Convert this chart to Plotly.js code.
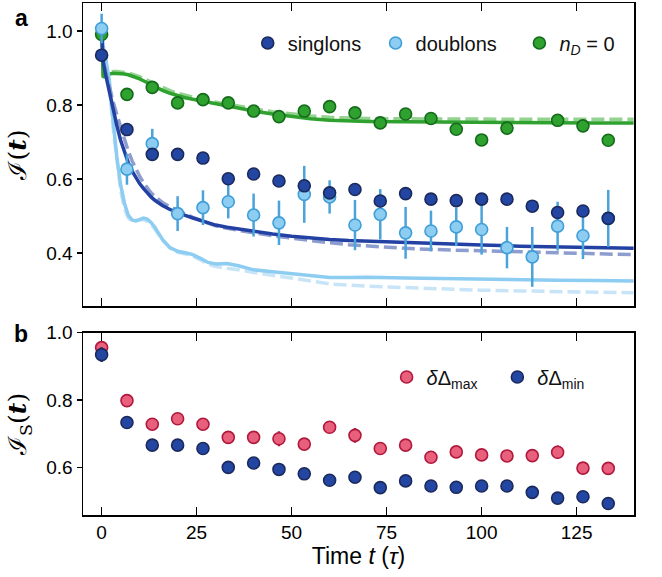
<!DOCTYPE html>
<html>
<head>
<meta charset="utf-8">
<script src="https://cdn.plot.ly/plotly-3.0.1.min.js"></script>
<style>html,body{margin:0;padding:0;background:#fff;}#chart{width:662px;height:577px;}</style>
</head>
<body>
<div id="chart"></div>
<script>
// measured times (tau)
const tData = [0, 6.67, 13.33, 20, 26.67, 33.33, 40, 46.67, 53.33, 60, 66.67, 73.33, 80, 86.67, 93.33, 100, 106.67, 113.33, 120, 126.67, 133.33];
// panel a
const singlons = [0.935, 0.734, 0.667, 0.667, 0.657, 0.601, 0.614, 0.595, 0.582, 0.563, 0.572, 0.541, 0.561, 0.546, 0.542, 0.546, 0.546, 0.527, 0.510, 0.514, 0.494];
const singlonsErr = [0.015, 0.012, 0.012, 0.012, 0.012, 0.012, 0.012, 0.012, 0.012, 0.012, 0.012, 0.012, 0.012, 0.012, 0.012, 0.012, 0.012, 0.012, 0.012, 0.012, 0.012];
const doublons = [1.007, 0.627, 0.696, 0.507, 0.523, 0.539, 0.503, 0.482, 0.559, 0.552, 0.476, 0.505, 0.455, 0.460, 0.471, 0.464, 0.415, 0.390, 0.473, 0.447, 0.494];
const doublonsErr = [0.04, 0.042, 0.04, 0.047, 0.047, 0.045, 0.058, 0.06, 0.077, 0.045, 0.068, 0.068, 0.07, 0.055, 0.052, 0.068, 0.056, 0.081, 0.066, 0.063, 0.077];
const nD0 = [0.991, 0.829, 0.848, 0.806, 0.815, 0.806, 0.784, 0.769, 0.784, 0.796, 0.779, 0.752, 0.776, 0.764, 0.735, 0.706, 0.738, null, 0.759, 0.744, 0.705];
const nD0Err = [0.01, 0.01, 0.01, 0.01, 0.01, 0.01, 0.01, 0.01, 0.01, 0.01, 0.01, 0.01, 0.01, 0.01, 0.01, 0.01, 0.01, 0.01, 0.01, 0.01, 0.01];
// theory curves
const tTheory = [0, 0.4, 1, 2, 3, 4, 5, 6, 7, 8, 9, 10, 11, 12, 13, 14, 15, 16, 18, 20, 22, 24, 26, 28, 30, 33, 36, 40, 45, 50, 55, 60, 65, 70, 80, 90, 100, 110, 120, 130, 140];
const singlonsTh = [1.0, 0.92, 0.885, 0.835, 0.79, 0.745, 0.705, 0.672, 0.645, 0.622, 0.603, 0.588, 0.575, 0.563, 0.552, 0.543, 0.536, 0.529, 0.518, 0.509, 0.502, 0.495, 0.489, 0.482, 0.476, 0.470, 0.465, 0.459, 0.452, 0.446, 0.441, 0.437, 0.434, 0.432, 0.428, 0.425, 0.422, 0.419, 0.417, 0.415, 0.413];
const singlonsTh2 = [1.0, 0.93, 0.895, 0.85, 0.81, 0.775, 0.74, 0.705, 0.676, 0.65, 0.628, 0.608, 0.591, 0.576, 0.563, 0.553, 0.545, 0.537, 0.525, 0.515, 0.505, 0.497, 0.489, 0.481, 0.474, 0.467, 0.461, 0.455, 0.447, 0.440, 0.434, 0.428, 0.423, 0.419, 0.413, 0.409, 0.406, 0.403, 0.400, 0.398, 0.396];
const doublonsTh = [1.0, 0.96, 0.93, 0.87, 0.76, 0.66, 0.585, 0.535, 0.503, 0.49, 0.487, 0.49, 0.495, 0.492, 0.483, 0.47, 0.452, 0.437, 0.415, 0.405, 0.401, 0.396, 0.386, 0.375, 0.371, 0.372, 0.366, 0.355, 0.350, 0.345, 0.340, 0.334, 0.334, 0.335, 0.333, 0.331, 0.329, 0.328, 0.327, 0.326, 0.325];
const doublonsTh2 = [1.0, 0.955, 0.92, 0.85, 0.74, 0.645, 0.57, 0.52, 0.495, 0.487, 0.487, 0.49, 0.49, 0.486, 0.478, 0.465, 0.45, 0.435, 0.413, 0.402, 0.398, 0.392, 0.382, 0.370, 0.364, 0.360, 0.355, 0.348, 0.341, 0.333, 0.325, 0.317, 0.313, 0.311, 0.307, 0.303, 0.300, 0.298, 0.296, 0.294, 0.293];
const nD0Th = [1.0, 0.875, 0.879, 0.884, 0.886, 0.886, 0.885, 0.884, 0.882, 0.879, 0.875, 0.871, 0.866, 0.861, 0.855, 0.849, 0.845, 0.840, 0.832, 0.825, 0.820, 0.816, 0.812, 0.807, 0.803, 0.797, 0.791, 0.784, 0.776, 0.769, 0.763, 0.759, 0.757, 0.756, 0.755, 0.754, 0.753, 0.753, 0.752, 0.752, 0.752];
const nD0Th2 = [1.0, 0.88, 0.885, 0.889, 0.891, 0.891, 0.890, 0.889, 0.887, 0.884, 0.881, 0.877, 0.872, 0.867, 0.862, 0.857, 0.852, 0.847, 0.839, 0.832, 0.826, 0.821, 0.816, 0.812, 0.808, 0.802, 0.797, 0.790, 0.782, 0.776, 0.771, 0.767, 0.765, 0.764, 0.763, 0.762, 0.762, 0.762, 0.762, 0.762, 0.762];
// panel b
const dMax = [0.956, 0.799, 0.729, 0.745, 0.729, 0.690, 0.690, 0.686, 0.670, 0.720, 0.696, 0.657, 0.667, 0.631, 0.647, 0.638, 0.635, 0.636, 0.646, 0.599, 0.598];
const dMaxErr = [0.012, 0.01, 0.01, 0.01, 0.01, 0.01, 0.01, 0.022, 0.01, 0.01, 0.022, 0.01, 0.01, 0.01, 0.01, 0.01, 0.01, 0.01, 0.02, 0.01, 0.012];
const dMin = singlons;
const dMinErr = [0.022, 0.01, 0.01, 0.01, 0.01, 0.01, 0.01, 0.01, 0.01, 0.01, 0.01, 0.01, 0.01, 0.01, 0.01, 0.01, 0.01, 0.01, 0.01, 0.01, 0.01];

const FONT = 'Liberation Sans, Arial, Helvetica, sans-serif';
const cDark = '#2446a3', cDarkEdge = '#1b2a5c';
const cLight = '#8ecdf2', cLightEdge = '#3f9fd8';
const cGreen = '#2fa12f', cGreenEdge = '#156b1b';
const cRed = '#e8607b', cRedEdge = '#b1183d';
const DASH = '13px,5px';

function line(y, color, dash, width) {
  return {x: tTheory, y: y, type: 'scatter', mode: 'lines', xaxis: 'x', yaxis: 'y',
    line: {color: color, width: width || 3.5, dash: dash || 'solid'}, showlegend: false, hoverinfo: 'skip'};
}
function pts(y, err, fill, edge, errColor, name, xa, ya, leg) {
  return {x: tData, y: y, type: 'scatter', mode: 'markers', name: name, xaxis: xa, yaxis: ya, legend: leg,
    marker: {size: 12, color: fill, line: {color: edge, width: 1.6}},
    error_y: {type: 'data', array: err, visible: true, color: errColor, thickness: 2.5, width: 0}};
}

const traces = [
  line(nD0Th2, '#93d28f', DASH),
  line(nD0Th, cGreen, 'solid'),
  line(doublonsTh2, '#c8e5f8', DASH),
  line(doublonsTh, cLight, 'solid'),
  line(singlonsTh2, '#8e9dcf', DASH),
  line(singlonsTh, '#2341a3', 'solid'),
  pts(nD0, nD0Err, cGreen, cGreenEdge, cGreenEdge, '<i>n</i><sub><i>D</i></sub> = 0', 'x', 'y', 'legend3'),
  pts(doublons, doublonsErr, cLight, cLightEdge, '#4aa3da', 'doublons', 'x', 'y', 'legend2'),
  pts(singlons, singlonsErr, cDark, cDarkEdge, cDarkEdge, 'singlons', 'x', 'y', 'legend'),
  pts(dMax, dMaxErr, cRed, cRedEdge, cRedEdge, '<i>δ</i>Δ<sub>max</sub>', 'x2', 'y2', 'legend4'),
  pts(dMin, dMinErr, cDark, cDarkEdge, cDarkEdge, '<i>δ</i>Δ<sub>min</sub>', 'x2', 'y2', 'legend5')
];

const xr = [-4.9, 140.1];
const axBase = {showgrid: false, zeroline: false, showline: true, linecolor: '#000', linewidth: 1.5,
  tickcolor: '#000', tickwidth: 1.5, tickfont: {family: FONT, size: 19, color: '#000'}};
const legBase = {font: {family: FONT, size: 20, color: '#111'}, bgcolor: 'rgba(0,0,0,0)', borderwidth: 0,
  xanchor: 'left', yanchor: 'middle', orientation: 'h', itemwidth: 30};

const layout = {
  width: 662, height: 577,
  margin: {l: 83, r: 28, t: 3, b: 62},
  paper_bgcolor: '#fff', plot_bgcolor: '#fff',
  font: {family: FONT, color: '#000'},
  xaxis: Object.assign({}, axBase, {domain: [0, 1], anchor: 'y', range: xr, tickvals: [0, 25, 50, 75, 100, 125],
    ticks: 'inside', ticklen: 8, mirror: 'ticks', showticklabels: false}),
  yaxis: Object.assign({}, axBase, {domain: [0.408, 1], anchor: 'x', range: [0.257, 1.076], tickvals: [0.4, 0.6, 0.8, 1.0],
    ticktext: ['0.4', '0.6', '0.8', '1.0'], ticks: 'outside', ticklen: 5, mirror: true,
    title: {text: 'ℐ(<i><b>t</b></i>)', font: {family: 'DejaVu Serif, serif', size: 25}, standoff: 12}}),
  yaxis3: Object.assign({}, axBase, {overlaying: 'y', side: 'right', anchor: 'x', range: [0.257, 1.076], tickvals: [0.4, 0.6, 0.8, 1.0],
    ticks: 'inside', ticklen: 8, showticklabels: false, showline: false}),
  xaxis2: Object.assign({}, axBase, {domain: [0, 1], anchor: 'y2', range: xr, tickvals: [0, 25, 50, 75, 100, 125],
    ticks: 'inside', ticklen: 8, mirror: 'ticks', showticklabels: true,
    title: {text: 'Time <i>t</i> (<i>τ</i>)', font: {family: FONT, size: 23}, standoff: 2}}),
  yaxis2: Object.assign({}, axBase, {domain: [0, 0.356], anchor: 'x2', range: [0.46, 1.0], tickvals: [0.6, 0.8, 1.0],
    ticktext: ['0.6', '0.8', '1.0'], ticks: 'outside', ticklen: 5, mirror: true,
    title: {text: 'ℐ<sub>S</sub>(<i><b>t</b></i>)', font: {family: 'DejaVu Serif, serif', size: 25}, standoff: 12}}),
  yaxis4: Object.assign({}, axBase, {overlaying: 'y2', side: 'right', anchor: 'x2', range: [0.46, 1.0], tickvals: [0.6, 0.8, 1.0],
    ticks: 'inside', ticklen: 8, showticklabels: false, showline: false}),
  legend: Object.assign({}, legBase, {x: 0.299, y: 0.922}),
  legend2: Object.assign({}, legBase, {x: 0.531, y: 0.922}),
  legend3: Object.assign({}, legBase, {x: 0.792, y: 0.922}),
  legend4: Object.assign({}, legBase, {x: 0.551, y: 0.2695}),
  legend5: Object.assign({}, legBase, {x: 0.752, y: 0.2695}),
  annotations: [
    {text: '<b>a</b>', xref: 'paper', yref: 'paper', x: -0.112, y: (515 - 18) / 512, xanchor: 'center', yanchor: 'middle',
      showarrow: false, font: {family: FONT, size: 23, color: '#000'}},
    {text: '<b>b</b>', xref: 'paper', yref: 'paper', x: -0.112, y: (515 - 334) / 512, xanchor: 'center', yanchor: 'middle',
      showarrow: false, font: {family: FONT, size: 23, color: '#000'}}
  ]
};

Plotly.newPlot('chart', traces, layout, {displayModeBar: false, staticPlot: true});
</script>
</body>
</html>
